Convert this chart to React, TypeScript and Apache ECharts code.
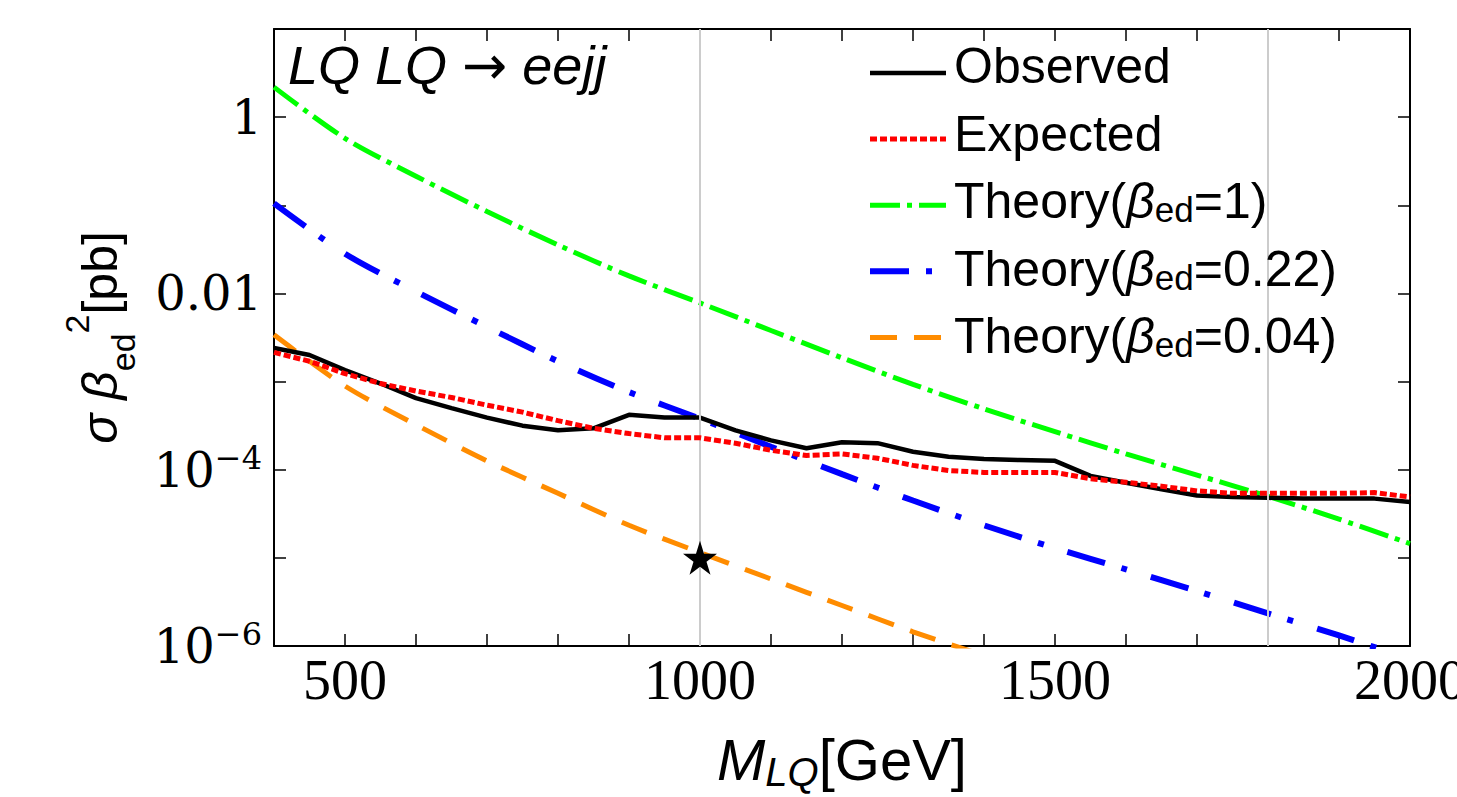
import React, { useEffect, useRef } from 'react';
import * as echarts from 'echarts';

// ---- data ----
const massObs = [400, 450, 500, 550, 600, 650, 700, 750, 800, 850, 900, 950, 1000, 1050, 1100, 1150, 1200, 1250, 1300, 1350, 1400, 1450, 1500, 1550, 1600, 1650, 1700, 1750, 1800, 1850, 1900, 1950, 2000];
const observed = [2.4e-3, 2.0e-3, 1.35e-3, 9.5e-4, 6.5e-4, 5.0e-4, 3.9e-4, 3.16e-4, 2.8e-4, 2.95e-4, 4.2e-4, 3.9e-4, 3.9e-4, 2.8e-4, 2.15e-4, 1.75e-4, 2.05e-4, 2.0e-4, 1.6e-4, 1.4e-4, 1.32e-4, 1.29e-4, 1.26e-4, 8.5e-5, 7.1e-5, 6.0e-5, 5.1e-5, 4.9e-5, 4.8e-5, 4.7e-5, 4.7e-5, 4.7e-5, 4.3e-5];
const expected = [2.14e-3, 1.7e-3, 1.23e-3, 9.5e-4, 7.8e-4, 6.6e-4, 5.4e-4, 4.5e-4, 3.6e-4, 2.95e-4, 2.57e-4, 2.3e-4, 2.3e-4, 2.0e-4, 1.66e-4, 1.45e-4, 1.51e-4, 1.35e-4, 1.12e-4, 9.8e-5, 9.3e-5, 9.3e-5, 9.3e-5, 7.9e-5, 7.2e-5, 6.5e-5, 5.75e-5, 5.4e-5, 5.4e-5, 5.4e-5, 5.4e-5, 5.5e-5, 4.9e-5];

const massTheory = [400, 500, 600, 700, 800, 900, 1000, 1100, 1200, 1300, 1400, 1500, 1600, 1700, 1800, 1900, 2000];
const theoryBeta1 = [2.19, 0.575, 0.214, 0.085, 0.0355, 0.0158, 0.0078, 0.0038, 0.00186, 0.00093, 0.00049, 0.00027, 0.000151, 8.7e-5, 5.0e-5, 2.75e-5, 1.45e-5];
const theoryBeta022 = [0.105, 0.0282, 0.0105, 0.00417, 0.0017, 7.6e-4, 3.8e-4, 1.82e-4, 8.9e-5, 4.47e-5, 2.34e-5, 1.29e-5, 7.4e-6, 4.2e-6, 2.34e-6, 1.32e-6, 7.1e-7];
const massTheory004 = [400, 500, 600, 700, 800, 900, 1000, 1100, 1200, 1300, 1400, 1500];
const theoryBeta004 = [3.39e-3, 8.9e-4, 3.24e-4, 1.26e-4, 5.4e-5, 2.34e-5, 1.15e-5, 5.75e-6, 2.88e-6, 1.45e-6, 7.8e-7, 4.3e-7];

const benchmarkPoint = [1000, 1e-5];
const gridLinesX = [1000, 1800];
const xLabelValues = [500, 1000, 1500, 2000];
const yLabelExponents = [0, -2, -4, -6];

const seriesNames = ['Observed', 'Expected', 'Theory(β=1)', 'Theory(β=0.22)', 'Theory(β=0.04)'];
const legendTexts: Record<string, string> = {
  'Observed': '{t|Observed}',
  'Expected': '{t|Expected}',
  'Theory(β=1)': '{t|Theory(}{b|β}{s|ed}{t|=1)}',
  'Theory(β=0.22)': '{t|Theory(}{b|β}{s|ed}{t|=0.22)}',
  'Theory(β=0.04)': '{t|Theory(}{b|β}{s|ed}{t|=0.04)}',
};

const STAR = 'path://M50,0 L61.2,34.5 L97.6,34.5 L68.2,55.9 L79.4,90.5 L50,69.1 L20.6,90.5 L31.8,55.9 L2.4,34.5 L38.8,34.5 Z';

const sans = 'Liberation Sans';

export default function App() {
  const ref = useRef<HTMLDivElement>(null);
  useEffect(() => {
    if (!ref.current) return;
    const chart = echarts.init(ref.current, undefined, { renderer: 'svg' });
    const pair = (xs: number[], ys: number[]) => xs.map((x, i) => [x, ys[i]]);

    const tickStyle = { show: true, inside: true, length: 12, lineStyle: { color: '#000', width: 1.5 } };
    const xBase = { type: 'value', min: 400, max: 2000, interval: 100, splitLine: { show: false }, axisLine: { show: true, lineStyle: { color: '#000', width: 2 } }, axisTick: tickStyle };
    const yBase = { type: 'log', logBase: 10, min: 1e-6, max: 10, splitLine: { show: false }, minorTick: { show: false }, axisLine: { show: true, lineStyle: { color: '#000', width: 2 } }, axisTick: tickStyle };

    const legendRowTop = 66;
    const legendRowStep = 67.5;
    const legendLabelRich = {
      t: { fontFamily: sans, fontSize: 50, lineHeight: 52, fill: '#000' },
      b: { fontFamily: sans, fontStyle: 'italic', fontSize: 50, lineHeight: 52, fill: '#000' },
      s: { fontFamily: sans, fontSize: 35, lineHeight: 30, verticalAlign: 'bottom', fill: '#000' },
    };

    chart.setOption({
      animation: false,
      backgroundColor: '#fff',
      grid: { left: 274, top: 29, width: 1136, height: 617, show: false, containLabel: false, outerBoundsMode: 'none' },
      xAxis: [
        {
          ...xBase,
          position: 'bottom',
          axisLabel: {
            margin: 6,
            fontFamily: 'Liberation Serif',
            fontSize: 56,
            color: '#000',
            formatter: (v: number) => (xLabelValues.indexOf(v) >= 0 ? String(v) : ''),
          },
          name: '{m|M}{s|LQ}{g|[GeV]}',
          nameLocation: 'middle',
          nameGap: 80,
          nameTextStyle: {
            rich: {
              m: { fontFamily: sans, fontStyle: 'italic', fontSize: 58, lineHeight: 66, color: '#000' },
              s: { fontFamily: sans, fontStyle: 'italic', fontSize: 40, lineHeight: 30, verticalAlign: 'bottom', color: '#000' },
              g: { fontFamily: sans, fontSize: 58, lineHeight: 66, color: '#000' },
            },
          },
        },
        { ...xBase, position: 'top', axisLabel: { show: false } },
      ],
      yAxis: [
        {
          ...yBase,
          position: 'left',
          axisLabel: {
            margin: 12,
            formatter: (v: number) => {
              const e = Math.round(Math.log10(v));
              if (yLabelExponents.indexOf(e) < 0) return '';
              if (e >= -2) return '{n|' + String(Math.pow(10, e)) + '}';
              return '{n|10}{p|−' + String(-e) + '}';
            },
            rich: {
              n: { fontFamily: 'DejaVu Serif', fontSize: 48, lineHeight: 56, color: '#000' },
              p: { fontFamily: 'DejaVu Serif', fontSize: 32, lineHeight: 16, verticalAlign: 'top', color: '#000' },
            },
          },
          name: '{i|σ }{i|β}{s|ed}{p|2}{g|[pb]}',
          nameLocation: 'middle',
          nameRotate: 90,
          nameGap: 134,
          nameTextStyle: {
            rich: {
              i: { fontFamily: sans, fontStyle: 'italic', fontSize: 50, lineHeight: 80, color: '#000' },
              s: { fontFamily: sans, fontSize: 34, lineHeight: 44, verticalAlign: 'bottom', color: '#000' },
              p: { fontFamily: sans, fontSize: 34, lineHeight: 22, verticalAlign: 'top', color: '#000' },
              g: { fontFamily: sans, fontSize: 50, lineHeight: 80, color: '#000' },
            },
          },
        },
        { ...yBase, position: 'right', axisLabel: { show: false } },
      ],
      legend: {
        data: seriesNames,
        orient: 'vertical',
        left: 867,
        top: legendRowTop,
        itemWidth: 76,
        itemHeight: 14,
        itemGap: legendRowStep - 14,
        padding: 0,
        selectedMode: false,
        formatter: () => '',
        itemStyle: { opacity: 0 },
        lineStyle: { width: 'inherit', type: 'inherit' },
      },
      graphic: [
        {
          type: 'text',
          left: 288,
          top: 38,
          style: {
            text: '{i|LQ LQ }{a|→}{i| eejj}',
            rich: {
              i: { fontFamily: sans, fontStyle: 'italic', fontSize: 54, lineHeight: 62, fill: '#000' },
              a: { fontFamily: 'DejaVu Sans', fontSize: 54, lineHeight: 62, fill: '#000' },
            },
            fill: '#000',
          },
          z: 10,
        },
        ...seriesNames.map((name, i) => ({
          type: 'text',
          x: 954,
          y: legendRowTop + i * legendRowStep,
          style: {
            text: legendTexts[name],
            rich: legendLabelRich,
            verticalAlign: 'middle',
            align: 'left',
            fill: '#000',
          },
          z: 10,
        })),
      ],
      series: [
        {
          type: 'line',
          name: 'gridlines',
          data: [],
          z: 1,
          markLine: {
            silent: true,
            symbol: 'none',
            label: { show: false },
            lineStyle: { color: '#cccccc', width: 2, type: 'solid' },
            data: gridLinesX.map((x) => ({ xAxis: x })),
          },
        },
        {
          type: 'line',
          name: seriesNames[2],
          data: pair(massTheory, theoryBeta1),
          symbol: 'none',
          smooth: 0.3,
          z: 3,
          lineStyle: { color: '#00ff00', width: 5, type: [30, 7, 5, 7], cap: 'butt' },
          itemStyle: { color: '#00ff00' },
        },
        {
          type: 'line',
          name: seriesNames[3],
          data: pair(massTheory, theoryBeta022),
          symbol: 'none',
          smooth: 0.3,
          z: 3,
          lineStyle: { color: '#0000ff', width: 6, type: [39, 17, 6, 25], cap: 'butt' },
          itemStyle: { color: '#0000ff' },
        },
        {
          type: 'line',
          name: seriesNames[4],
          data: pair(massTheory004, theoryBeta004),
          symbol: 'none',
          smooth: 0.3,
          z: 3,
          lineStyle: { color: '#ff8c00', width: 5, type: [27, 17], cap: 'butt' },
          itemStyle: { color: '#ff8c00' },
        },
        {
          type: 'line',
          name: seriesNames[0],
          data: pair(massObs, observed),
          symbol: 'none',
          z: 4,
          lineStyle: { color: '#000000', width: 4.5, type: 'solid' },
          itemStyle: { color: '#000000' },
        },
        {
          type: 'line',
          name: seriesNames[1],
          data: pair(massObs, expected),
          symbol: 'none',
          z: 5,
          lineStyle: { color: '#ff0000', width: 5, type: [7, 3], cap: 'butt' },
          itemStyle: { color: '#ff0000' },
        },
        {
          type: 'scatter',
          name: 'benchmark',
          data: [benchmarkPoint],
          symbol: STAR,
          symbolSize: 34,
          z: 6,
          itemStyle: { color: '#000', opacity: 1 },
        },
      ],
    });
    return () => chart.dispose();
  }, []);
  return <div ref={ref} style={{ position: 'fixed', left: 0, top: 0, width: 1457, height: 797 }} />;
}
